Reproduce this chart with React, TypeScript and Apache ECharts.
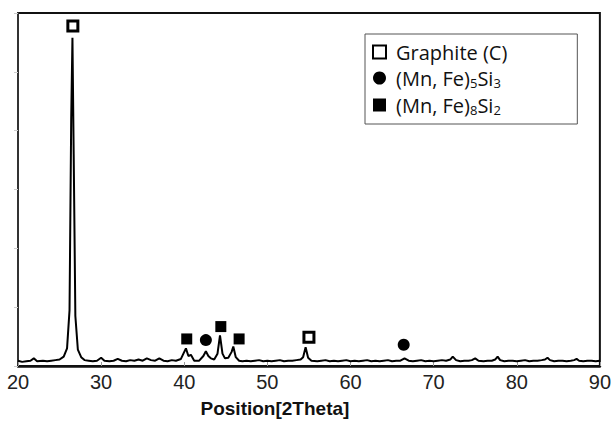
import React, { useEffect, useRef } from "react";
import * as echarts from "echarts";

// 2θ positions (deg) and intensities (arbitrary units, axis 0..6)
const twoTheta: number[] = [
  20.0, 20.5, 21.0, 21.5, 21.9, 22.3, 23.0, 23.5, 24.0, 24.5, 25.0, 25.5, 25.9, 26.2, 26.4, 26.55, 26.7, 26.9, 27.2, 27.6,
  28.0, 28.5, 29.0, 29.5, 30.0, 30.4, 31.0, 31.5, 32.0, 32.5, 33.0, 33.5, 34.0, 34.5, 35.0, 35.5, 36.0, 36.5, 37.0, 37.5,
  38.0, 38.5, 39.0, 39.6, 40.0, 40.2, 40.5, 40.8, 41.2, 41.8, 42.3, 42.6, 42.9, 43.2, 43.6, 44.0, 44.3, 44.6, 44.9, 45.3,
  45.7, 45.9, 46.2, 46.6, 47.0, 47.5, 48.0, 48.5, 49.0, 49.5, 50.0, 50.5, 51.0, 51.5, 52.0, 52.5, 53.0, 53.5, 54.0, 54.3,
  54.6, 54.9, 55.3, 56.0, 56.5, 57.0, 57.5, 58.0, 58.5, 59.0, 59.5, 60.0, 60.5, 61.0, 61.5, 62.0, 62.5, 63.0, 63.5, 64.0,
  64.5, 65.0, 65.5, 66.0, 66.5, 67.0, 67.5, 68.0, 68.5, 69.0, 69.5, 70.0, 70.5, 71.0, 71.5, 72.0, 72.3, 72.7, 73.2, 73.7,
  74.2, 74.6, 75.0, 75.4, 76.0, 76.5, 77.0, 77.4, 77.7, 78.0, 78.5, 79.0, 79.5, 80.0, 80.5, 81.0, 81.5, 82.0, 82.5, 83.0,
  83.4, 83.7, 84.0, 84.5, 85.0, 85.5, 86.0, 86.5, 86.9, 87.2, 87.5, 88.0, 88.5, 89.0, 89.5, 90.0,
];
const intensity: number[] = [
  0.09, 0.07, 0.08, 0.09, 0.13, 0.08, 0.09, 0.08, 0.09, 0.10, 0.11, 0.16, 0.30, 0.95, 4.20, 5.58, 3.60, 0.85, 0.28, 0.15,
  0.10, 0.09, 0.08, 0.09, 0.14, 0.09, 0.08, 0.09, 0.12, 0.09, 0.08, 0.10, 0.09, 0.11, 0.09, 0.13, 0.10, 0.09, 0.13, 0.09,
  0.08, 0.10, 0.09, 0.12, 0.24, 0.30, 0.17, 0.19, 0.09, 0.09, 0.17, 0.25, 0.17, 0.13, 0.11, 0.21, 0.52, 0.21, 0.13, 0.14,
  0.24, 0.33, 0.15, 0.09, 0.08, 0.09, 0.08, 0.09, 0.10, 0.08, 0.09, 0.08, 0.09, 0.10, 0.08, 0.09, 0.09, 0.10, 0.11, 0.15,
  0.32, 0.14, 0.09, 0.08, 0.09, 0.10, 0.08, 0.09, 0.08, 0.09, 0.10, 0.08, 0.09, 0.08, 0.09, 0.10, 0.08, 0.09, 0.08, 0.09,
  0.10, 0.08, 0.09, 0.09, 0.13, 0.09, 0.08, 0.09, 0.10, 0.08, 0.09, 0.08, 0.09, 0.10, 0.09, 0.11, 0.16, 0.10, 0.08, 0.09,
  0.09, 0.10, 0.13, 0.09, 0.08, 0.09, 0.09, 0.11, 0.16, 0.10, 0.08, 0.09, 0.09, 0.08, 0.09, 0.10, 0.08, 0.09, 0.09, 0.10,
  0.11, 0.14, 0.10, 0.08, 0.09, 0.09, 0.08, 0.09, 0.10, 0.12, 0.09, 0.08, 0.09, 0.09, 0.08, 0.09,
];

// phase markers: [2θ, marker height]
const graphiteMarks: number[][] = [[26.6, 5.78], [55.0, 0.49]];
const mnFe5Si3Marks: number[][] = [[42.6, 0.44], [66.4, 0.36]];
const mnFe8Si2Marks: number[][] = [[40.3, 0.46], [44.4, 0.67], [46.6, 0.46]];

const seriesNames = ["Graphite (C)", "(Mn, Fe)5Si3", "(Mn, Fe)8Si2"];
const legendLabels = ["Graphite (C)", "(Mn, Fe){sub|5}Si{sub|3}", "(Mn, Fe){sub|8}Si{sub|2}"];
const xTicks = { min: 20, max: 90, interval: 10 };
const yTicks = { min: 0, max: 6, interval: 1 };
const xAxisTitle = "Position[2Theta]";

export default function App() {
  const ref = useRef<HTMLDivElement>(null);
  useEffect(() => {
    if (!ref.current) return;
    const chart = echarts.init(ref.current, undefined, { renderer: "svg" });
    const lineData = twoTheta.map((t, i) => [t, intensity[i]]);
    chart.setOption({
      animation: false,
      backgroundColor: "#ffffff",
      grid: {
        left: 18,
        right: 14,
        top: 13,
        bottom: 52,
        show: true,
        borderColor: "#111",
        borderWidth: 2,
      },
      xAxis: {
        type: "value",
        min: xTicks.min,
        max: xTicks.max,
        interval: xTicks.interval,
        name: xAxisTitle,
        nameLocation: "middle",
        nameGap: 33,
        nameTextStyle: {
          fontFamily: "Liberation Sans",
          fontWeight: "bold",
          fontSize: 19,
          color: "#111",
          padding: [0, 68, 0, 0],
        },
        axisLine: { lineStyle: { color: "#111", width: 2.5 } },
        axisTick: { inside: true, length: 4, lineStyle: { color: "#999" } },
        axisLabel: { fontFamily: "Liberation Sans", fontSize: 20, color: "#222", margin: 6 },
        splitLine: { show: false },
      },
      yAxis: {
        type: "value",
        min: yTicks.min,
        max: yTicks.max,
        interval: yTicks.interval,
        axisLine: { show: true, lineStyle: { color: "#333", width: 2 } },
        axisTick: { show: true, length: 4, lineStyle: { color: "#ccc" } },
        axisLabel: { show: false },
        splitLine: { show: false },
      },
      legend: {
        orient: "vertical",
        left: 365,
        top: 34,
        itemGap: 6,
        itemWidth: 13,
        itemHeight: 13,
        padding: [8, 70, 8, 7],
        borderColor: "#555",
        borderWidth: 1,
        backgroundColor: "#fff",
        data: seriesNames,
        formatter: (name: string) => legendLabels[seriesNames.indexOf(name)],
        textStyle: {
          fontFamily: "Open Sans",
          fontSize: 20,
          color: "#111",
          padding: [0, 0, 0, 5],
          rich: {
            sub: { fontFamily: "Open Sans", fontSize: 13, color: "#111", padding: [9, 0, 0, 0] },
          },
        },
      },
      series: [
        {
          type: "line",
          data: lineData,
          showSymbol: false,
          lineStyle: { color: "#000", width: 2 },
          silent: true,
          z: 2,
        },
        {
          name: seriesNames[0],
          type: "scatter",
          data: graphiteMarks,
          symbol: "rect",
          symbolSize: 10,
          itemStyle: { color: "#fff", borderColor: "#000", borderWidth: 3, opacity: 1 },
          z: 3,
        },
        {
          name: seriesNames[1],
          type: "scatter",
          data: mnFe5Si3Marks,
          symbol: "circle",
          symbolSize: 12,
          itemStyle: { color: "#000", opacity: 1 },
          z: 3,
        },
        {
          name: seriesNames[2],
          type: "scatter",
          data: mnFe8Si2Marks,
          symbol: "rect",
          symbolSize: 11,
          itemStyle: { color: "#000", opacity: 1 },
          z: 3,
        },
      ],
    });
    return () => chart.dispose();
  }, []);
  return <div ref={ref} style={{ position: "absolute", left: 0, top: 0, width: 614, height: 423 }} />;
}
